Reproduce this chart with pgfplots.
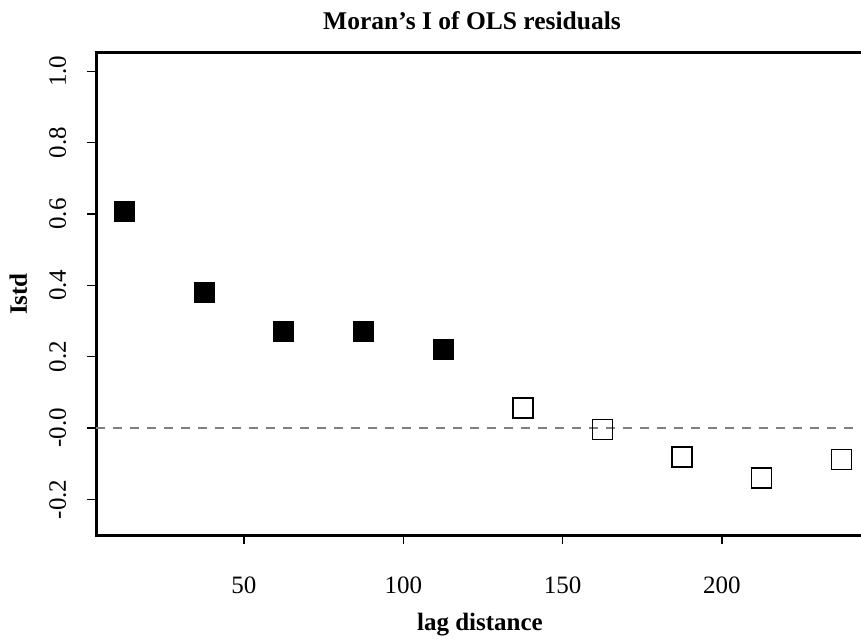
\documentclass[border=0pt]{standalone}
\usepackage{pgfplots}
\pgfplotsset{compat=1.18}
\usepackage{fontspec}
\setmainfont{Liberation Serif}
\definecolor{refgray}{RGB}{128,128,128}
\newcommand{\lbl}{\fontsize{12.5bp}{15bp}\selectfont}
\begin{document}
\begin{tikzpicture}
\begin{axis}[
  scale only axis,
  width=384bp, height=241bp,
  xmin=3.548, xmax=244.6,
  ymin=-0.300, ymax=1.0513,
  axis line style={line width=1.5bp},
  tick style={line width=0.6bp, black},
  tick align=outside,
  major tick length=4.5bp,
  xtick={50,100,150,200},
  xticklabels={50,100,150,200},
  ytick={-0.2,0,0.2,0.4,0.6,0.8,1.0},
  yticklabels={-0.2,-0.0,0.2,0.4,0.6,0.8,1.0},
  xtick pos=bottom, ytick pos=left,
  ticklabel style={font=\lbl},
  xticklabel style={anchor=base, yshift=-24.5bp},
  yticklabel style={xshift=-10.5bp, rotate=90, anchor=base},
  xlabel={\textbf{lag distance}},
  ylabel={\textbf{Istd}},
  xlabel style={font=\lbl, at={(axis description cs:0.5,0)}, anchor=base, yshift=-47.5bp},
  ylabel style={font=\lbl, at={(axis description cs:0,0.5)}, anchor=base, yshift=34.5bp},
  title={\textbf{Moran's I of OLS residuals}},
  title style={font=\fontsize{12.75bp}{15bp}\selectfont, at={(axis description cs:0.5,1)}, anchor=base, xshift=-4bp, yshift=6bp},
  clip=false,
]
% zero reference line
\addplot[refgray, line width=1bp, dash pattern=on 4.5bp off 4bp]
  coordinates {(3.548,0) (244.6,0)};
% significant lags (filled)
\addplot[only marks, mark=square*, mark size=5bp, mark options={fill=black, draw=black, line width=0.5bp}]
  coordinates {(12.5,0.606) (37.5,0.381) (62.5,0.271) (87.5,0.270) (112.5,0.220)};
% non-significant lags (open)
\addplot[only marks, mark=square, mark size=5bp, mark options={draw=black, line width=0.75bp}]
  coordinates {(137.5,0.056) (162.5,-0.004) (187.5,-0.082) (212.5,-0.140) (237.5,-0.088)};
\coordinate (sw) at (rel axis cs:0,0);
\coordinate (nw) at (rel axis cs:0,1);
\end{axis}
\pgfresetboundingbox
\path[use as bounding box] ([shift={(-48bp,-52.5bp)}]sw) rectangle ([shift={(382.5bp,26.5bp)}]nw);
\end{tikzpicture}
\end{document}
